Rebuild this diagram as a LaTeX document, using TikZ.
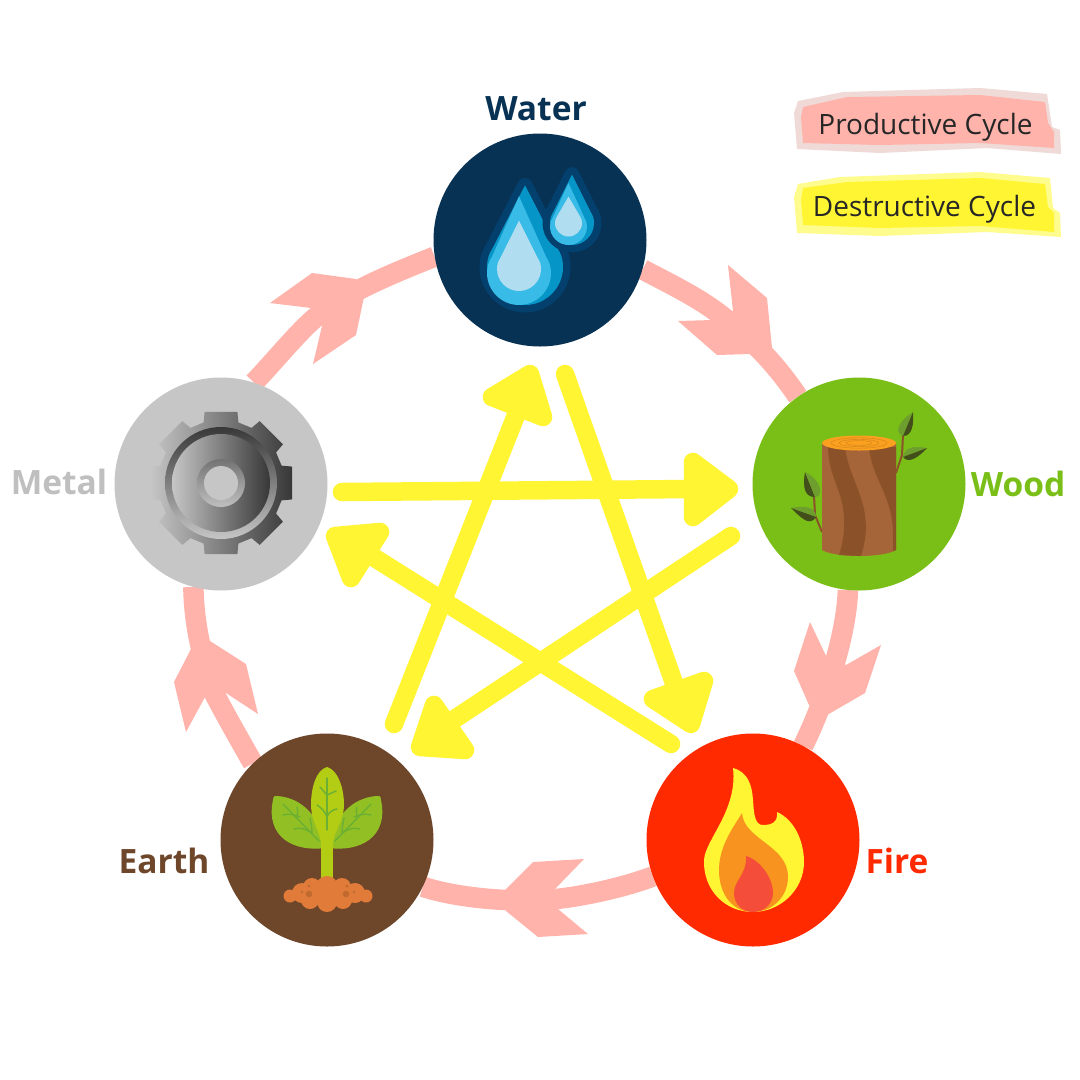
\documentclass[tikz,border=0pt]{standalone}
\usepackage{fontspec}
\setmainfont{Open Sans}
\definecolor{ringpink}{HTML}{FFB3AB}
\definecolor{palepink}{HTML}{EFDAD7}
\definecolor{staryellow}{HTML}{FFF533}
\definecolor{paleyellow}{HTML}{FFFC8E}
\definecolor{waterc}{HTML}{073254}
\definecolor{woodc}{HTML}{7ABF17}
\definecolor{firec}{HTML}{FF2A00}
\definecolor{earthc}{HTML}{6E462A}
\definecolor{metalc}{HTML}{C6C6C6}
\definecolor{barkl}{HTML}{A66538}
\definecolor{barkd}{HTML}{8B5229}
\definecolor{leafl}{HTML}{6E9E2E}
\definecolor{leafd}{HTML}{434F1B}
\definecolor{veinc}{HTML}{6BB033}
\definecolor{sproutc}{HTML}{B3CC14}
\definecolor{sideleaf}{HTML}{92C024}
\definecolor{soilc}{HTML}{E07B39}
\definecolor{soild}{HTML}{C06A2F}
\definecolor{dropo}{HTML}{03406E}
\definecolor{dropm}{HTML}{0595C6}
\definecolor{dropl}{HTML}{39BBE8}
\definecolor{dropp}{HTML}{B0DDEF}
\definecolor{flamer}{HTML}{F44E3B}
\definecolor{flameo}{HTML}{F7931E}
\definecolor{ringtop}{HTML}{FCA11F}
\definecolor{ringline}{HTML}{D98A1E}
\newcommand{\dropat}[5]{\fill[#1,shift={(#2,#3)},scale=#4] (0,-#5) -- (-.85,-.5) .. controls (-.95,-.35) and (-1,-.2) .. (-1,0) .. controls (-1,.55) and (-.55,1) .. (0,1) .. controls (.55,1) and (1,.55) .. (1,0) .. controls (1,-.2) and (.95,-.35) .. (.85,-.5) -- cycle;}
\tikzset{
  x=1pt,y=-1pt,
  element/.style={circle,inner sep=0pt,minimum size=213pt},
  cycleline/.style={draw=ringpink,line width=20.5pt},
  ringhead/.style={fill=ringpink},
  starline/.style={draw=staryellow,line width=18.5pt,line cap=round},
  starhead/.style={draw=staryellow,fill=staryellow,line width=18.5pt,line join=round},
  name label/.style={font=\fontsize{33.5}{38}\selectfont\bfseries,inner sep=0pt},
  legend label/.style={font=\fontsize{28}{34}\selectfont,text=black!85,inner sep=0pt},
  vein/.style={draw=veinc,line width=1.4pt,line cap=round},
  halo/.style={draw=dropo,fill=dropo,line width=15pt,line join=round},
}
\begin{document}
\begin{tikzpicture}
\useasboundingbox (0,0) rectangle (1080,1080);
\fill[white] (0,0) rectangle (1080,1080);

% legend swatches
\fill[palepink] (798,101) -- (843,92) -- (980,88) -- (1047,94) -- (1052,127) -- (1060,130) -- (1061,154) -- (987,148) -- (880,153) -- (797,149) -- (794,113) -- cycle;
\fill[ringpink] (803,107) -- (847,97) -- (913,96) -- (980,95) -- (1045,102) -- (1048,123) -- (1054,132) -- (1054,148) -- (980,143) -- (880,145) -- (803,143) -- (801,117) -- cycle;
\fill[paleyellow] (798,184) -- (840,177) -- (980,172) -- (1050,178) -- (1053,208) -- (1060,213) -- (1061,237) -- (987,232) -- (880,236) -- (797,233) -- (794,197) -- cycle;
\fill[staryellow] (803,188) -- (847,182) -- (980,178) -- (1045,184) -- (1048,207) -- (1054,213) -- (1054,232) -- (980,226) -- (880,228) -- (803,225) -- (801,200) -- cycle;
\node[legend label] (prodlabel) at (925.5,127) {Productive Cycle};
\node[legend label] (destlabel) at (924.5,209) {Destructive Cycle};

% element nodes, placed first so that connectors can name them
\node[element] (water) at (540,240) {};
\node[element] (wood) at (859,484) {};
\node[element] (fire) at (753,840) {};
\node[element] (earth) at (327,840) {};
\node[element] (metal) at (221,484) {};

% productive cycle
\coordinate (m1) at (722,316);
\coordinate (m3) at (556,899);
\coordinate (m4) at (215,695);
\coordinate (m5) at (316,317);
\draw[cycleline] (water.-16) .. controls (668,283) and (698,297) .. (m1) .. controls (754,341) and (778,367) .. (wood.125);
\draw[cycleline] (wood.264) .. controls (847,632) and (826,700) .. (fire.62);
\draw[cycleline] (fire.200) .. controls (625,887) and (585,896) .. (m3) .. controls (520,903) and (460,899) .. (earth.-26);
\draw[cycleline] (earth.134) .. controls (238,737) and (225,714) .. (m4) .. controls (205,667) and (194,630) .. (metal.255);
\draw[cycleline] (metal.72) .. controls (272,364) and (298,332) .. (m5) .. controls (347,291) and (404,269) .. (water.189);
\fill[ringhead] (728,265) -- (767,298) -- (772,348) -- (750,354) -- (717,355) -- (678,321) -- (712,320) -- (733,311) -- cycle;
\fill[ringhead] (810,622) -- (794,671) -- (809,705) -- (827,715) -- (865,693) -- (881,645) -- (846,665) -- (827,658) -- cycle;
\fill[ringhead] (533,862) -- (584,859) -- (555,889) -- (558,909) -- (588,934) -- (538,937) -- (506,911) -- (504,891) -- cycle;
\fill[ringhead] (191,649) -- (174,682) -- (186,732) -- (205,697) -- (226,693) -- (258,714) -- (246,664) -- (210,641) -- cycle;
\fill[ringhead] (312,273) -- (356,279) -- (364,297) -- (356,335) -- (313,364) -- (322,326) -- (311,308) -- (270,303) -- cycle;

% element discs
\fill[waterc] (water) circle [radius=106.5];
\fill[woodc] (wood) circle [radius=106.5];
\fill[firec] (fire) circle [radius=106.5];
\fill[earthc] (earth) circle [radius=106.5];
\fill[metalc] (metal) circle [radius=106.5];

% destructive cycle
\coordinate (s1) at (394,724); \coordinate (e1) at (522,400);
\coordinate (s2) at (565,374); \coordinate (e2) at (680,700);
\coordinate (s3) at (342,492); \coordinate (e3) at (693,489);
\coordinate (s4) at (731,536); \coordinate (e4) at (450,722);
\coordinate (s5) at (671,744); \coordinate (e5) at (370,555);
\draw[starline] (s1) -- (e1);
\filldraw[starhead] (530,374) -- (492,397) -- (543,417) -- cycle;
\draw[starline] (s2) -- (e2);
\filldraw[starhead] (704,681) -- (653,699) -- (691,724) -- cycle;
\draw[starline] (s3) -- (e3);
\filldraw[starhead] (693,462) -- (729,489) -- (693,517) -- cycle;
\draw[starline] (s4) -- (e4);
\filldraw[starhead] (434,705) -- (420,747) -- (465,750) -- cycle;
\draw[starline] (s5) -- (e5);
\filldraw[starhead] (380,532) -- (335,536) -- (351,578) -- cycle;

% labels
\node[name label,text=waterc] (waterlabel) at (536,109) {Water};
\node[name label,text=woodc] (woodlabel) at (1018,484) {Wood};
\node[name label,text=firec] (firelabel) at (897,861) {Fire};
\node[name label,text=earthc] (earthlabel) at (164,861) {Earth};
\node[name label,text=black!25] (metallabel) at (59,482) {Metal};

% water icon
\dropat{halo}{525}{267}{38}{2.15}
\dropat{dropm}{525}{267}{38}{2.15}
\dropat{dropl}{519}{273}{32}{2.4}
\dropat{dropp}{519}{269}{22}{2.2}
\dropat{halo}{572}{223}{22}{2.2}
\dropat{dropm}{572}{223}{22}{2.2}
\dropat{dropl}{568.5}{226.5}{18.5}{2.35}
\dropat{dropp}{568.5}{223}{13.5}{1.95}

% wood icon
\draw[barkd,line width=2pt] (822,532) -- (815,515) -- (814,495);
\draw[barkd,line width=2pt] (896,473) -- (902,455) -- (903,435);
\fill[leafl] (913,412) .. controls (900,420) and (893,432) .. (903,436) -- cycle;
\fill[leafd] (913,412) .. controls (914,425) and (912,436) .. (903,436) -- cycle;
\fill[leafl] (927,448) .. controls (915,446) and (905,446) .. (903,457) -- cycle;
\fill[leafd] (927,448) .. controls (918,458) and (908,464) .. (903,457) -- cycle;
\fill[leafd] (805,472) .. controls (802,490) and (806,497) .. (815,497) -- cycle;
\fill[leafl] (805,472) .. controls (822,480) and (824,497) .. (815,497) -- cycle;
\fill[leafl] (791,508) .. controls (805,505) and (816,507) .. (816,517) -- cycle;
\fill[leafd] (791,508) .. controls (803,520) and (810,526) .. (816,517) -- cycle;
\fill[barkl] (822,443) -- (822,550) .. controls (835,558) and (883,558) .. (896,550) -- (896,443) -- cycle;
\fill[barkd] (828,445) .. controls (828,480) and (845,490) .. (844,525) .. controls (844,540) and (841,548) .. (839,555) -- (861,556) .. controls (866,540) and (868,525) .. (863,505) .. controls (856,480) and (848,470) .. (845,447) -- cycle;
\fill[barkd] (869,447) .. controls (872,480) and (893,495) .. (893,535) -- (893,551) -- (896,550) -- (896,447) -- cycle;
\fill[ringtop] (859,443) ellipse [x radius=37,y radius=7.5];
\draw[ringline,line width=.6pt] (859,443) ellipse [x radius=28,y radius=5.2];
\draw[ringline,line width=.6pt] (859,443) ellipse [x radius=20,y radius=3.6];
\draw[ringline,line width=.6pt] (859,443) ellipse [x radius=13,y radius=2.4];

% fire icon
\fill[staryellow] (733,768) .. controls (748,772) and (752,785) .. (753,800) .. controls (754,815) and (755,825) .. (763,825) .. controls (772,825) and (778,822) .. (777,812) .. controls (795,820) and (804,842) .. (804,862) .. controls (804,890) and (780,912) .. (753,912) .. controls (725,912) and (703,890) .. (704,860) .. controls (705,840) and (738,810) .. (733,768) -- cycle;
\fill[flameo] (742,813) .. controls (744,840) and (788,845) .. (788,877) .. controls (788,897) and (772,912) .. (753,912) .. controls (733,912) and (719,895) .. (719,870) .. controls (719,845) and (735,825) .. (742,813) -- cycle;
\fill[flamer] (746,856) .. controls (760,860) and (773,878) .. (773,893) .. controls (773,904) and (764,912) .. (753,912) .. controls (742,912) and (734,904) .. (734,893) .. controls (734,880) and (747,875) .. (746,856) -- cycle;

% earth icon
\fill[sideleaf] (275,796) .. controls (295,796) and (320,810) .. (325,848) .. controls (295,852) and (265,838) .. (273,800) .. controls (273,797) and (274,796) .. (275,796) -- cycle;
\fill[sideleaf] (379,796) .. controls (359,796) and (334,810) .. (329,848) .. controls (359,852) and (389,838) .. (381,800) .. controls (381,797) and (380,796) .. (379,796) -- cycle;
\draw[vein] (283,804) -- (319,841);
\draw[vein] (283,815) .. controls (290,813) and (295,815) .. (300,817);
\draw[vein] (297,807) .. controls (298,811) and (298,814) .. (297,817);
\draw[vein] (294,829) .. controls (300,827) and (306,829) .. (312,833);
\draw[vein] (310,818) .. controls (311,823) and (312,828) .. (312,833);
\draw[vein] (371,804) -- (335,841);
\draw[vein] (371,815) .. controls (364,813) and (359,815) .. (354,817);
\draw[vein] (357,807) .. controls (356,811) and (356,814) .. (357,817);
\draw[vein] (360,829) .. controls (354,827) and (348,829) .. (342,833);
\draw[vein] (344,818) .. controls (343,823) and (342,828) .. (342,833);
\fill[sproutc] (321,835) rectangle (333,882);
\fill[sproutc] (327,767) .. controls (338,770) and (344,788) .. (344,805) .. controls (344,820) and (335,830) .. (333,842) -- (321,842) .. controls (319,830) and (311,820) .. (311,805) .. controls (311,788) and (316,770) .. (327,767) -- cycle;
\draw[vein] (327,778) -- (327,830);
\draw[vein] (320,787) -- (327,795) -- (336,791);
\draw[vein] (317,805) .. controls (322,808) and (325,812) .. (327,817) .. controls (329,812) and (332,810) .. (337,809);
\fill[soilc] (327,895) ellipse [x radius=37,y radius=10];
\foreach \px/\py/\pr in {290/896/6.5,366/896/6.5,302/893/10,312/887/9,327/887/11,342/887/9,355/893/10,310/900/9,327/902/10,343/900/9}
  \fill[soilc] (\px,\py) circle [radius=\pr];
\foreach \px/\py/\pr in {309/894/3.3,346/894/3.3,302/892/1.5,354/892/1.5,309/886/1.5,347/886/1.5}
  \fill[soild] (\px,\py) circle [radius=\pr];

% metal icon
\begin{scope}[shift={(221,483)}]
\shade[left color=metalc,right color=black!78] (-16:63) \foreach \a in {0,45,...,315} { -- ({\a-16}:63) -- ({\a-13}:73) -- ({\a+13}:73) -- ({\a+16}:63) } -- cycle;
\shade[top color=black!78,bottom color=metalc] (0,0) circle [radius=56];
\shade[left color=metalc,right color=black!78] (0,0) circle [radius=49];
\shade[top color=black!55,bottom color=black!25] (0,0) circle [radius=24];
\fill[metalc] (0,0) circle [radius=17];
\end{scope}
\end{tikzpicture}
\end{document}
